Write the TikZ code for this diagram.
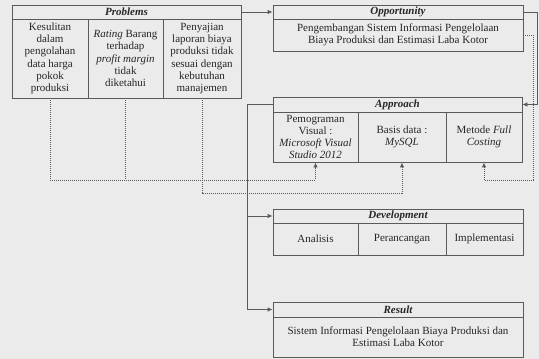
\documentclass[tikz,border=0pt]{standalone}
\usepackage{fontspec}
\setmainfont{Liberation Serif}
\usetikzlibrary{arrows.meta}
\definecolor{bggray}{HTML}{EBEBEB}
\definecolor{linegray}{HTML}{5A5A5A}
\definecolor{inkgray}{HTML}{262626}
\tikzset{
	box/.style={draw=linegray, line width=0.8pt, inner sep=0pt, align=center, text=inkgray, font=\fontsize{11}{12.3}\selectfont},
	head/.style={box, font=\fontsize{11}{12.3}\selectfont\bfseries\itshape},
	link/.style={draw=linegray, line width=0.8pt},
	dots/.style={draw=linegray, line width=1pt, densely dotted},
	arr/.style={-{Latex[length=5pt,width=4.5pt]}}
}

\begin{document}
\begin{tikzpicture}[x=1pt, y=-1pt]
			%%%%% START %%%%%
			
			\fill[bggray] (0,0) rectangle (539,359);
			\useasboundingbox (0,0) rectangle (539,359);
			
			% Problems
			\node[head, minimum width=229pt, minimum height=14pt] (probhead) at (126.5,12) {Problems};
			\node[box, minimum width=76pt, minimum height=79pt] (probA) at (50,58.5) {Kesulitan\\dalam\\pengolahan\\data harga\\pokok\\produksi};
			\node[box, minimum width=75pt, minimum height=79pt] (probB) at (125.5,58.5) {\textit{Rating} Barang\\terhadap\\\textit{profit margin}\\tidak\\diketahui};
			\node[box, minimum width=78pt, minimum height=79pt] (probC) at (202,58.5) {Penyajian\\laporan biaya\\produksi tidak\\sesuai dengan\\kebutuhan\\manajemen};
			
			% Opportunity
			\node[head, minimum width=250pt, minimum height=14pt] (opphead) at (398,12) {Opportunity};
			\node[box, minimum width=250pt, minimum height=32pt] (oppbody) at (398,35) {Pengembangan Sistem Informasi Pengelolaan\\Biaya Produksi dan Estimasi Laba Kotor};
			
			% Approach
			\node[head, minimum width=249pt, minimum height=15pt] (apphead) at (397.5,104.5) {Approach};
			\node[box, minimum width=85pt, minimum height=50pt] (appA) at (315.5,137) {Pemograman\\Visual :\\\textit{Microsoft Visual}\\\textit{Studio 2012}};
			\node[box, minimum width=88pt, minimum height=50pt] (appB) at (402,137) {Basis data :\\\textit{MySQL}};
			\node[box, minimum width=76pt, minimum height=50pt] (appC) at (484,137) {Metode \textit{Full}\\\textit{Costing}};
			
			% Development
			\node[head, minimum width=250pt, minimum height=14pt] (devhead) at (398,216) {Development};
			\node[box, minimum width=85pt, minimum height=32pt] (devA) at (315.5,239) {Analisis};
			\node[box, minimum width=88pt, minimum height=32pt] (devB) at (402,239) {Perancangan};
			\node[box, minimum width=77pt, minimum height=32pt] (devC) at (484.5,239) {Implementasi};
			
			% Result
			\node[head, minimum width=250pt, minimum height=15pt] (reshead) at (398,309.5) {Result};
			\node[box, minimum width=250pt, minimum height=40pt] (resbody) at (398,337) {Sistem Informasi Pengelolaan Biaya Produksi dan\\Estimasi Laba Kotor};
			
			% solid links
			\coordinate (spine) at (247,0);
			\draw[link, arr] (probhead.east) -- (probhead.east -| opphead.west);
			\draw[link, arr] (opphead.east) -- ++(14,0) |- (apphead.east);
			\draw[link, arr] (apphead.west) -- (spine |- apphead.west) |- (reshead.west);
			\draw[link, arr] (spine |- devhead.west) -- (devhead.west);
			
			% dotted links
			\coordinate (joinA) at (0,180);
			\coordinate (joinB) at (0,193);
			\coordinate (dotR) at (533,180);
			\draw[dots, arr] (probA.south) |- (appA.south |- joinA) -- (appA.south);
			\draw[dots] (probB.south) -- (probB.south |- joinA);
			\draw[dots, arr] (probC.south) |- (appB.south |- joinB) -- (appB.south);
			\draw[dots, arr] (oppbody.east) -- (dotR |- oppbody.east) -- (dotR) -| (appC.south);
			
			%%%%% END %%%%%
\end{tikzpicture}
\end{document}
